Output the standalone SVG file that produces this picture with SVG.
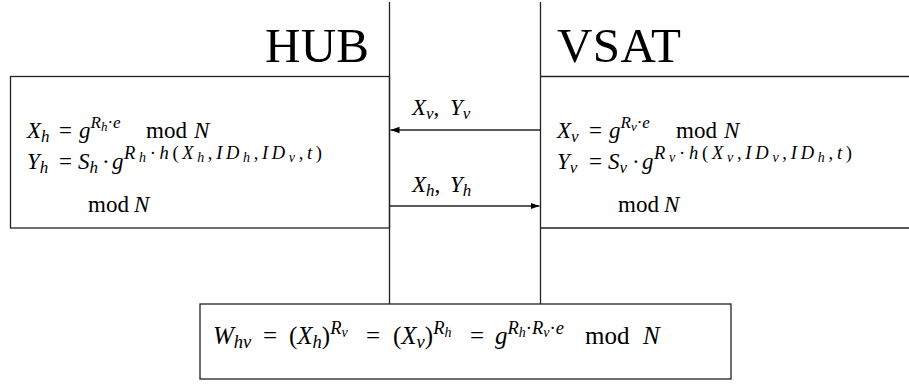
<svg xmlns="http://www.w3.org/2000/svg" width="909" height="385" viewBox="0 0 909 385">
<style>
.ln{stroke:#222;stroke-width:1.3;fill:none}
.m{font-family:"Liberation Serif","Times New Roman",serif;font-size:23px;fill:#000}
.b{font-size:25px}
.t{font-family:"Liberation Serif","Times New Roman",serif;font-size:49px;fill:#000}
.i{font-style:italic}
.s{font-size:17px}
.ss{font-size:13px}
.p{font-size:18.5px}
.pp{font-size:14px}
</style>
<defs>
<marker id="ah" markerWidth="10" markerHeight="8" refX="9" refY="4" orient="auto" markerUnits="userSpaceOnUse">
<path d="M0,0.8 L9,4 L0,7.2 Z" fill="#000"/>
</marker>
</defs>
<rect width="909" height="385" fill="#fff"/>
<g id="lanes">
<line class="ln" x1="389.5" y1="2" x2="389.5" y2="304"/>
<line class="ln" x1="540.5" y1="2" x2="540.5" y2="304"/>
<text class="t" x="265" y="62" textLength="104" lengthAdjust="spacing">HUB</text>
<text class="t" x="557" y="62" textLength="124" lengthAdjust="spacing">VSAT</text>
</g>
<g id="hub">
<rect class="ln" x="10.5" y="76.5" width="379" height="151.5"/>
<text class="m" x="27" y="138"><tspan class="i">X</tspan><tspan class="s i" dy="4">h</tspan><tspan x="59" dy="-4">=</tspan><tspan class="i" x="79">g</tspan><tspan class="s i" dy="-10">R</tspan><tspan class="ss i" dy="3">h</tspan><tspan class="s" dy="-3">·</tspan><tspan class="s i">e</tspan><tspan x="146" dy="10">mod</tspan><tspan class="i" x="194">N</tspan></text>
<text class="m" x="27" y="169"><tspan class="i">Y</tspan><tspan class="s i" dy="4">h</tspan><tspan x="59" dy="-4">=</tspan><tspan class="i" x="78">S</tspan><tspan class="s i" dy="4">h</tspan><tspan x="102" dy="-4">·</tspan><tspan class="i" x="112">g</tspan></text>
<text class="m" x="124" y="159" textLength="198" lengthAdjust="spacing"><tspan class="p i">R</tspan><tspan class="pp i" dy="3">h</tspan><tspan class="p" dy="-3">·</tspan><tspan class="p i">h</tspan><tspan class="p">(</tspan><tspan class="p i">X</tspan><tspan class="pp i" dy="3">h</tspan><tspan class="p" dy="-3">,</tspan><tspan class="p i">ID</tspan><tspan class="pp i" dy="3">h</tspan><tspan class="p" dy="-3">,</tspan><tspan class="p i">ID</tspan><tspan class="pp i" dy="3">v</tspan><tspan class="p" dy="-3">,</tspan><tspan class="p i">t</tspan><tspan class="p">)</tspan></text>
<text class="m" x="88" y="212">mod<tspan class="i" x="134">N</tspan></text>
</g>
<g id="vsat">
<path class="ln" d="M540.5,76.5 H909 M540.5,228 H909"/>
<text class="m" x="557" y="138"><tspan class="i">X</tspan><tspan class="s i" dy="4">v</tspan><tspan x="589" dy="-4">=</tspan><tspan class="i" x="609">g</tspan><tspan class="s i" dy="-10">R</tspan><tspan class="ss i" dy="3">v</tspan><tspan class="s" dy="-3">·</tspan><tspan class="s i">e</tspan><tspan x="676" dy="10">mod</tspan><tspan class="i" x="724">N</tspan></text>
<text class="m" x="557" y="169"><tspan class="i">Y</tspan><tspan class="s i" dy="4">v</tspan><tspan x="589" dy="-4">=</tspan><tspan class="i" x="608">S</tspan><tspan class="s i" dy="4">v</tspan><tspan x="632" dy="-4">·</tspan><tspan class="i" x="642">g</tspan></text>
<text class="m" x="654" y="159" textLength="198" lengthAdjust="spacing"><tspan class="p i">R</tspan><tspan class="pp i" dy="3">v</tspan><tspan class="p" dy="-3">·</tspan><tspan class="p i">h</tspan><tspan class="p">(</tspan><tspan class="p i">X</tspan><tspan class="pp i" dy="3">v</tspan><tspan class="p" dy="-3">,</tspan><tspan class="p i">ID</tspan><tspan class="pp i" dy="3">v</tspan><tspan class="p" dy="-3">,</tspan><tspan class="p i">ID</tspan><tspan class="pp i" dy="3">h</tspan><tspan class="p" dy="-3">,</tspan><tspan class="p i">t</tspan><tspan class="p">)</tspan></text>
<text class="m" x="618" y="212">mod<tspan class="i" x="664">N</tspan></text>
</g>
<g id="shared">
<rect class="ln" x="200" y="304" width="531" height="75"/>
<text class="m b" x="213" y="344"><tspan class="i">W</tspan><tspan class="p i" dy="4">hv</tspan><tspan x="263" dy="-4">=</tspan><tspan x="289">(</tspan><tspan class="i">X</tspan><tspan class="p i" dy="4">h</tspan><tspan dy="-4">)</tspan><tspan class="p i" dy="-10">R</tspan><tspan class="pp i" dy="3">v</tspan><tspan x="366" dy="7">=</tspan><tspan x="393">(</tspan><tspan class="i">X</tspan><tspan class="p i" dy="4">v</tspan><tspan dy="-4">)</tspan><tspan class="p i" dy="-10">R</tspan><tspan class="pp i" dy="3">h</tspan><tspan x="470" dy="7">=</tspan><tspan class="i" x="495">g</tspan><tspan class="p i" dy="-10">R</tspan><tspan class="pp i" dy="3">h</tspan><tspan class="p" dy="-3">·</tspan><tspan class="p i">R</tspan><tspan class="pp i" dy="3">v</tspan><tspan class="p" dy="-3">·</tspan><tspan class="p i">e</tspan><tspan x="585" dy="10">mod</tspan><tspan class="i" x="643">N</tspan></text>
</g>
<g id="connectors">
<line class="ln" x1="540.5" y1="130" x2="390.5" y2="130" marker-end="url(#ah)"/>
<line class="ln" x1="389.5" y1="206" x2="539.5" y2="206" marker-end="url(#ah)"/>
<text class="m" x="412" y="115"><tspan class="i">X</tspan><tspan class="s i" dy="4">v</tspan><tspan dy="-4">,</tspan><tspan class="i" x="450">Y</tspan><tspan class="s i" dy="4">v</tspan></text>
<text class="m" x="412" y="192"><tspan class="i">X</tspan><tspan class="s i" dy="4">h</tspan><tspan dy="-4">,</tspan><tspan class="i" x="450">Y</tspan><tspan class="s i" dy="4">h</tspan></text>
</g>
</svg>
